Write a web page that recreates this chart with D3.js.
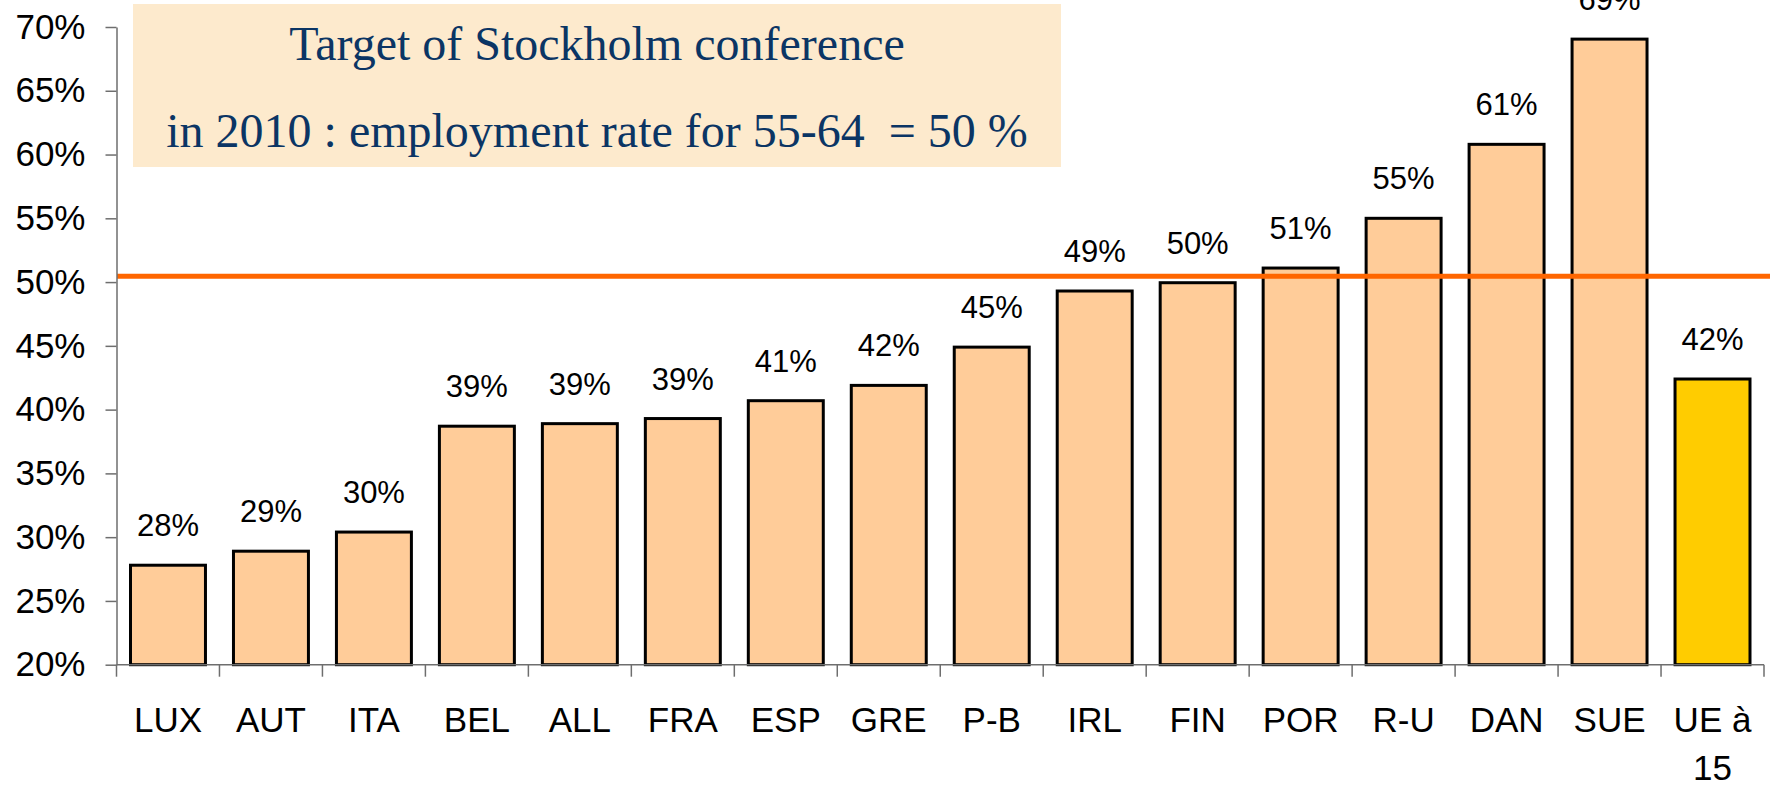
<!DOCTYPE html>
<html lang="en">
<head>
<meta charset="utf-8">
<title>Employment rate 55-64</title>
<script src="https://d3js.org/d3.v7.min.js"></script>
<style>
  body { margin: 0; background: #fff; }
  svg { display: block; }
  .axis text { font-family: "Liberation Sans", Arial, sans-serif; font-size: 35px; fill: #000; }
  .axis path, .axis line { stroke: #6e6e6e; stroke-width: 1.5px; }
  .vals { font-family: "Liberation Sans", Arial, sans-serif; font-size: 31px; fill: #000; }
  .cats { font-family: "Liberation Sans", Arial, sans-serif; font-size: 35px; fill: #000; }
  .note { font-family: "Liberation Serif", "Times New Roman", serif; font-size: 48px; fill: #0b3564; white-space: pre; }
</style>
</head>
<body>
<svg width="1770" height="786"></svg>
<script>
// data
const countries = ["LUX", "AUT", "ITA", "BEL", "ALL", "FRA", "ESP", "GRE", "P-B", "IRL", "FIN", "POR", "R-U", "DAN", "SUE", "UE à\n15"];
const rates = [27.8, 28.9, 30.4, 38.7, 38.9, 39.3, 40.7, 41.9, 44.9, 49.3, 49.95, 51.1, 55.0, 60.8, 69.05, 42.4];
const yTicks = [20, 25, 30, 35, 40, 45, 50, 55, 60, 65, 70];
const target = 50.45;
const noteLines = ["Target of Stockholm conference", "in 2010 : employment rate for 55-64  = 50 %"];

const svg = d3.select("svg");
const W = 1770, H = 786;

const x = d3.scaleBand()
  .domain(countries)
  .range([116.5, 1764])
  .paddingInner(0.272)
  .paddingOuter(0.136);

const y = d3.scaleLinear()
  .domain([20, 70])
  .range([664.7, 27]);

const step = x.step();

// note box
const box = svg.append("g");
box.append("rect")
  .attr("x", 133).attr("y", 4)
  .attr("width", 928).attr("height", 163)
  .attr("fill", "#fdeacd");
box.selectAll("text")
  .data(noteLines)
  .enter()
  .append("text")
  .attr("class", "note")
  .attr("x", 597)
  .attr("y", (d, i) => i === 0 ? 60 : 147)
  .attr("text-anchor", "middle")
  .text(d => d);

// bars
svg.selectAll(".bar")
  .data(rates)
  .enter()
  .append("rect")
  .attr("class", "bar")
  .attr("x", (d, i) => x(countries[i]))
  .attr("y", d => y(d))
  .attr("width", x.bandwidth())
  .attr("height", d => y(20) - y(d))
  .attr("fill", (d, i) => i === countries.length - 1 ? "#ffcc00" : "#ffcc99")
  .attr("stroke", "#000")
  .attr("stroke-width", 3);

// value labels
svg.selectAll(".vals")
  .data(rates)
  .enter()
  .append("text")
  .attr("class", "vals")
  .attr("x", (d, i) => x(countries[i]) + x.bandwidth() / 2)
  .attr("y", d => y(d) - 29)
  .attr("text-anchor", "middle")
  .text(d => Math.round(d) + "%");

// target line
svg.append("line")
  .attr("x1", 117).attr("x2", W)
  .attr("y1", y(target)).attr("y2", y(target))
  .attr("stroke", "#ff6600")
  .attr("stroke-width", 5);

// y axis
const yAxis = d3.axisLeft(y)
  .tickValues(yTicks)
  .tickSize(11)
  .tickSizeOuter(0)
  .tickPadding(20)
  .tickFormat(d => d + "%");
svg.append("g")
  .attr("class", "axis")
  .attr("transform", "translate(116.5,0)")
  .call(yAxis);

// x axis line with ticks on band boundaries
const xg = svg.append("g").attr("class", "axis");
xg.append("line")
  .attr("x1", x.range()[0]).attr("x2", x.range()[1])
  .attr("y1", y(20)).attr("y2", y(20));
xg.selectAll(".bt")
  .data(d3.range(countries.length + 1))
  .enter()
  .append("line")
  .attr("x1", i => x.range()[0] + i * step)
  .attr("x2", i => x.range()[0] + i * step)
  .attr("y1", y(20))
  .attr("y2", y(20) + 12);

// category labels
const cat = svg.selectAll(".cats")
  .data(countries)
  .enter()
  .append("text")
  .attr("class", "cats")
  .attr("text-anchor", "middle")
  .attr("y", 731.7);
cat.selectAll("tspan")
  .data(d => d.split("\n").map(t => ({ t, c: d })))
  .enter()
  .append("tspan")
  .attr("x", d => x(d.c) + x.bandwidth() / 2)
  .attr("dy", (d, i) => i === 0 ? 0 : 48)
  .text(d => d.t);
</script>
</body>
</html>
